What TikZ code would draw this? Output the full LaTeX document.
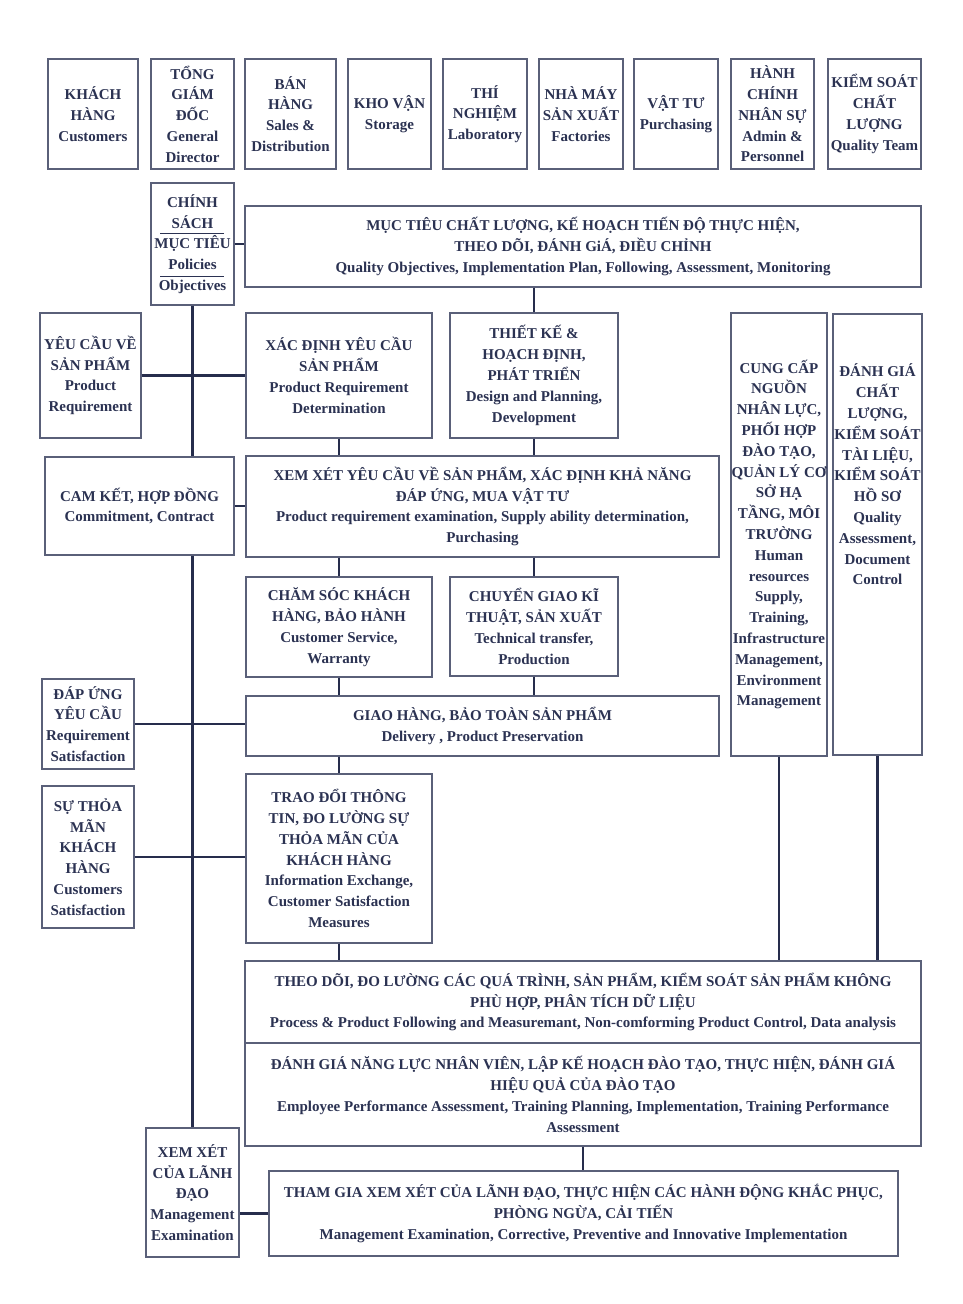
\documentclass[tikz,border=0pt]{standalone}
\usepackage{fontspec}
\setmainfont{Liberation Serif}
\definecolor{txtc}{HTML}{2B3252}
\definecolor{boxc}{HTML}{5A6079}
\definecolor{linec}{HTML}{262D4C}
\newcommand\bx[6]{\node[box, minimum width={#4-#2}, minimum height={#5-#3}] (#1) at ({(#2+#4)/2},{(#3+#5)/2}) {#6};}
\tikzset{
  box/.style={draw=boxc, line width=1.3pt, inner sep=0pt, align=center, text=txtc, font=\bfseries\fontsize{15}{20.8}\selectfont},
  txt/.style={inner sep=0pt, align=center, text=txtc, font=\bfseries\fontsize{15}{20.8}\selectfont},
  conn/.style={draw=linec, line width=2.6pt},
  sepline/.style={draw=txtc, line width=1pt}
}
\begin{document}
\begin{tikzpicture}[x=1pt,y=-1pt]
\fill[white] (0,0) rectangle (962,1304);
\useasboundingbox (0,0) rectangle (962,1304);
% top row
\bx{kh}{48}{59}{138}{169}{KHÁCH\\HÀNG\\Customers}
\bx{gd}{151}{59}{234}{169}{TỔNG\\GIÁM\\ĐỐC\\General\\Director}
\bx{bh}{245}{59}{336}{169}{BÁN\\HÀNG\\Sales \&\\Distribution}
\bx{kv}{348}{59}{431}{169}{KHO VẬN\\Storage}
\bx{tn}{443}{59}{527}{169}{THÍ\\NGHIỆM\\Laboratory}
\bx{nm}{539}{59}{623}{169}{NHÀ MÁY\\SẢN XUẤT\\Factories}
\bx{vt}{634}{59}{718}{169}{VẬT TƯ\\Purchasing}
\bx{hc}{731}{59}{814}{169}{HÀNH\\CHÍNH\\NHÂN SỰ\\Admin \&\\Personnel}
\bx{ks}{828}{59}{921}{169}{KIỂM SOÁT\\CHẤT\\LƯỢNG\\Quality Team}
% policies
\bx{cs}{151}{183}{234}{305}{CHÍNH\\SÁCH\\MỤC TIÊU\\Policies\\Objectives}
\draw[sepline] (160,233) -- (224,233);
\draw[sepline] (160,276) -- (224,276);
\bx{mt}{245}{206}{921}{287}{MỤC TIÊU CHẤT LƯỢNG, KẾ HOẠCH TIẾN ĐỘ THỰC HIỆN,\\THEO DÕI, ĐÁNH GiÁ, ĐIỀU CHỈNH\\Quality Objectives, Implementation Plan, Following, Assessment, Monitoring}
% row 2
\bx{yc}{40}{313}{141}{438}{YÊU CẦU VỀ\\SẢN PHẨM\\Product\\Requirement}
\bx{xd}{246}{313}{432}{438}{XÁC ĐỊNH YÊU CẦU\\SẢN PHẨM\\Product Requirement\\Determination}
\bx{tk}{450}{313}{618}{438}{THIẾT KẾ \&\\HOẠCH ĐỊNH,\\PHÁT TRIỂN\\Design and Planning,\\Development}
\bx{cc}{731}{313}{827}{756}{CUNG CẤP\\NGUỒN\\NHÂN LỰC,\\PHỐI HỢP\\ĐÀO TẠO,\\QUẢN LÝ CƠ\\SỞ HẠ\\TẦNG, MÔI\\TRƯỜNG\\Human\\resources\\Supply,\\Training,\\Infrastructure\\Management,\\Environment\\Management}
\bx{dg}{833}{314}{922}{755}{}
\node[txt] (dgt) at (877.5,474.5) {ĐÁNH GIÁ\\CHẤT\\LƯỢNG,\\KIỂM SOÁT\\TÀI LIỆU,\\KIỂM SOÁT\\HỒ SƠ\\Quality\\Assessment,\\Document\\Control};
% row 3
\bx{ck}{45}{457}{234}{555}{CAM KẾT, HỢP ĐỒNG\\Commitment, Contract}
\bx{xx}{246}{456}{719}{557}{XEM XÉT YÊU CẦU VỀ SẢN PHẨM, XÁC ĐỊNH KHẢ NĂNG\\ĐÁP ỨNG, MUA VẬT TƯ\\Product requirement examination, Supply ability determination,\\Purchasing}
% row 4
\bx{cso}{246}{577}{432}{677}{CHĂM SÓC KHÁCH\\HÀNG, BẢO HÀNH\\Customer Service,\\Warranty}
\bx{cg}{450}{577}{618}{676}{CHUYỂN GIAO KĨ\\THUẬT, SẢN XUẤT\\Technical transfer,\\Production}
\bx{gh}{246}{696}{719}{756}{GIAO HÀNG, BẢO TOÀN SẢN PHẨM\\Delivery , Product Preservation}
\bx{du}{42}{679}{134}{769}{ĐÁP ỨNG\\YÊU CẦU\\Requirement\\Satisfaction}
\bx{tr}{246}{774}{432}{943}{TRAO ĐỔI THÔNG\\TIN, ĐO LƯỜNG SỰ\\THỎA MÃN CỦA\\KHÁCH HÀNG\\Information Exchange,\\Customer Satisfaction\\Measures}
\bx{st}{42}{786}{134}{928}{SỰ THỎA\\MÃN\\KHÁCH\\HÀNG\\Customers\\Satisfaction}
% bottom
\bx{td}{245}{961}{921}{1043}{THEO DÕI, ĐO LƯỜNG CÁC QUÁ TRÌNH, SẢN PHẨM, KIỂM SOÁT SẢN PHẨM KHÔNG\\PHÙ HỢP, PHÂN TÍCH DỮ LIỆU\\Process \& Product Following and Measuremant, Non-comforming Product Control, Data analysis}
\bx{dn}{245}{1043}{921}{1146}{ĐÁNH GIÁ NĂNG LỰC NHÂN VIÊN, LẬP KẾ HOẠCH ĐÀO TẠO, THỰC HIỆN, ĐÁNH GIÁ\\HIỆU QUẢ CỦA ĐÀO TẠO\\Employee Performance Assessment, Training Planning, Implementation, Training Performance\\Assessment}
\bx{tg}{269}{1171}{898}{1256}{THAM GIA XEM XÉT CỦA LÃNH ĐẠO, THỰC HIỆN CÁC HÀNH ĐỘNG KHẮC PHỤC,\\PHÒNG NGỪA, CẢI TIẾN\\Management Examination, Corrective, Preventive and Innovative Implementation}
\bx{ld}{146}{1128}{239}{1257}{XEM XÉT\\CỦA LÃNH\\ĐẠO\\Management\\Examination}
% connectors
\draw[conn] (cs.east) -- (cs.east -| mt.west);
\draw[conn] (cs.south) -- (cs.south |- ck.north);
\draw[conn] (cs.south |- ck.south) -- (ld.north);
\draw[conn] (yc.east) -- (xd.west);
\draw[conn] (tk.north |- mt.south) -- (tk.north);
\draw[conn] (xd.south) -- (xd.south |- xx.north);
\draw[conn] (tk.south) -- (tk.south |- xx.north);
\draw[conn] (ck.east) -- (ck.east -| xx.west);
\draw[conn] (cso.north |- xx.south) -- (cso.north);
\draw[conn] (cg.north |- xx.south) -- (cg.north);
\draw[conn] (cso.south) -- (cso.south |- gh.north);
\draw[conn] (cg.south) -- (cg.south |- gh.north);
\draw[conn] (du.east) -- (du.east -| gh.west);
\draw[conn] (tr.north |- gh.south) -- (tr.north);
\draw[conn] (st.east) -- (st.east -| tr.west);
\draw[conn] (tr.south) -- (tr.south |- td.north);
\draw[conn] (cc.south) -- (cc.south |- td.north);
\draw[conn] (dg.south) -- (dg.south |- td.north);
\draw[conn] (dn.south) -- (dn.south |- tg.north);
\draw[conn] (tg.west) -- (tg.west -| ld.east);
\end{tikzpicture}
\end{document}
